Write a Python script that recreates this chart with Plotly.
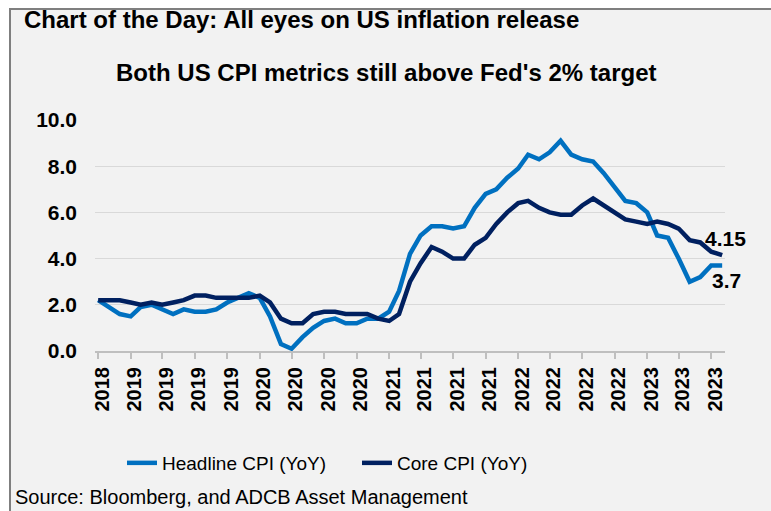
import plotly.graph_objects as go

# ---- data (monthly, Nov 2018 - Sep 2023) ----
months = [
    "2018-11-01", "2018-12-01",
    "2019-01-01", "2019-02-01", "2019-03-01", "2019-04-01", "2019-05-01", "2019-06-01",
    "2019-07-01", "2019-08-01", "2019-09-01", "2019-10-01", "2019-11-01", "2019-12-01",
    "2020-01-01", "2020-02-01", "2020-03-01", "2020-04-01", "2020-05-01", "2020-06-01",
    "2020-07-01", "2020-08-01", "2020-09-01", "2020-10-01", "2020-11-01", "2020-12-01",
    "2021-01-01", "2021-02-01", "2021-03-01", "2021-04-01", "2021-05-01", "2021-06-01",
    "2021-07-01", "2021-08-01", "2021-09-01", "2021-10-01", "2021-11-01", "2021-12-01",
    "2022-01-01", "2022-02-01", "2022-03-01", "2022-04-01", "2022-05-01", "2022-06-01",
    "2022-07-01", "2022-08-01", "2022-09-01", "2022-10-01", "2022-11-01", "2022-12-01",
    "2023-01-01", "2023-02-01", "2023-03-01", "2023-04-01", "2023-05-01", "2023-06-01",
    "2023-07-01", "2023-08-01", "2023-09-01",
]
headline_cpi = [
    2.2, 1.9,
    1.6, 1.5, 1.9, 2.0, 1.8, 1.6, 1.8, 1.7, 1.7, 1.8, 2.1, 2.3,
    2.5, 2.3, 1.5, 0.3, 0.1, 0.6, 1.0, 1.3, 1.4, 1.2, 1.2, 1.4,
    1.4, 1.7, 2.6, 4.2, 5.0, 5.4, 5.4, 5.3, 5.4, 6.2, 6.8, 7.0,
    7.5, 7.9, 8.5, 8.3, 8.6, 9.1, 8.5, 8.3, 8.2, 7.7, 7.1, 6.5,
    6.4, 6.0, 5.0, 4.9, 4.0, 3.0, 3.2, 3.7, 3.7,
]
core_cpi = [
    2.2, 2.2,
    2.2, 2.1, 2.0, 2.1, 2.0, 2.1, 2.2, 2.4, 2.4, 2.3, 2.3, 2.3,
    2.3, 2.4, 2.1, 1.4, 1.2, 1.2, 1.6, 1.7, 1.7, 1.6, 1.6, 1.6,
    1.4, 1.3, 1.6, 3.0, 3.8, 4.5, 4.3, 4.0, 4.0, 4.6, 4.9, 5.5,
    6.0, 6.4, 6.5, 6.2, 6.0, 5.9, 5.9, 6.3, 6.6, 6.3, 6.0, 5.7,
    5.6, 5.5, 5.6, 5.5, 5.3, 4.8, 4.7, 4.3, 4.15,
]
tick_dates = [
    "2018-11-01", "2019-02-01", "2019-05-01", "2019-08-01", "2019-11-01",
    "2020-02-01", "2020-05-01", "2020-08-01", "2020-11-01",
    "2021-02-01", "2021-05-01", "2021-08-01", "2021-11-01",
    "2022-02-01", "2022-05-01", "2022-08-01", "2022-11-01",
    "2023-02-01", "2023-05-01", "2023-08-01",
]
tick_labels = [
    "2018", "2019", "2019", "2019", "2019",
    "2020", "2020", "2020", "2020",
    "2021", "2021", "2021", "2021",
    "2022", "2022", "2022", "2022",
    "2023", "2023", "2023",
]
end_labels = ["4.15", "3.7"]

# ---- layout geometry ----
W, H = 771, 511
L, R, T, B = 95, 46, 120, 160
PW, PH = W - L - R, H - T - B


def xp(px):
    return (px - L) / PW


def yp(py):
    return (H - B - py) / PH


FONT = "Arial, Liberation Sans, sans-serif"
BLUE = "#0070C0"
NAVY = "#002060"

fig = go.Figure()
fig.add_trace(go.Scatter(x=months, y=headline_cpi, mode="lines", name="Headline CPI (YoY)",
                         line=dict(color=BLUE, width=4.5)))
fig.add_trace(go.Scatter(x=months, y=core_cpi, mode="lines", name="Core CPI (YoY)",
                         line=dict(color=NAVY, width=4.5)))

fig.update_layout(
    width=W, height=H,
    margin=dict(l=L, r=R, t=T, b=B, autoexpand=False),
    paper_bgcolor="white",
    plot_bgcolor="rgba(0,0,0,0)",
    font=dict(family=FONT, color="black"),
    showlegend=True,
    legend=dict(orientation="h", x=xp(122), y=yp(463), xanchor="left", yanchor="middle",
                font=dict(size=19, family=FONT), bgcolor="rgba(0,0,0,0)",
                entrywidth=190, itemwidth=30),
    xaxis=dict(
        type="date",
        range=["2018-10-23", "2023-09-09"],
        tickvals=tick_dates, ticktext=tick_labels,
        tickangle=-90,
        tickfont=dict(size=20, family=FONT, weight="bold"),
        ticks="outside", ticklen=6, tickwidth=1.5, tickcolor="#BFBFBF",
        showline=True, linecolor="#BFBFBF", linewidth=2,
        showgrid=False, zeroline=False,
        ticklabelshift=4,
    ),
    yaxis=dict(
        range=[0, 10], dtick=2, tickformat=".1f",
        tickfont=dict(size=21, family=FONT, weight="bold"),
        showgrid=True, gridcolor="#D9D9D9", gridwidth=1,
        zeroline=False, showline=False, ticks="",
        ticklabelstandoff=17,
    ),
    shapes=[dict(type="rect", xref="paper", yref="paper", layer="below",
                 x0=xp(10), x1=xp(800), y0=yp(530), y1=yp(9),
                 line=dict(color="#7F7F7F", width=2), fillcolor="#F2F2F2")],
    annotations=[
        dict(text="<b>Chart of the Day: All eyes on US inflation release</b>", xref="paper", yref="paper",
             x=xp(22), y=yp(19), xanchor="left", yanchor="middle", showarrow=False,
             font=dict(size=24, family=FONT)),
        dict(text="<b>Both US CPI metrics still above Fed's 2% target</b>", xref="paper", yref="paper",
             x=xp(386), y=yp(73), xanchor="center", yanchor="middle", showarrow=False,
             font=dict(size=24, family=FONT)),
        dict(text="Source: Bloomberg, and ADCB Asset Management", xref="paper", yref="paper",
             x=xp(13), y=yp(497), xanchor="left", yanchor="middle", showarrow=False,
             font=dict(size=20, family=FONT)),
        dict(text="<b>" + end_labels[0] + "</b>", xref="paper", yref="paper",
             x=xp(703), y=yp(238), xanchor="left", yanchor="middle", showarrow=False,
             font=dict(size=21, family=FONT)),
        dict(text="<b>" + end_labels[1] + "</b>", xref="paper", yref="paper",
             x=xp(710), y=yp(280), xanchor="left", yanchor="middle", showarrow=False,
             font=dict(size=21, family=FONT)),
    ],
)

fig.write_html("out.html",
               config={"displayModeBar": False},
               post_script="document.body.style.margin='0px';document.body.style.padding='0px';")
